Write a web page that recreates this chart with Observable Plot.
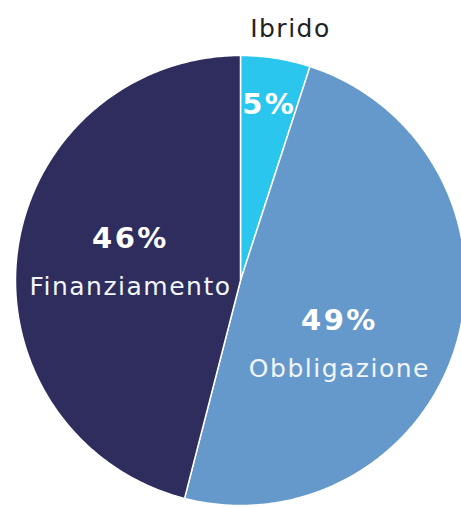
<!DOCTYPE html>
<html>
<head>
<meta charset="utf-8">
<script src="https://cdn.jsdelivr.net/npm/d3@7"></script>
<script src="https://cdn.jsdelivr.net/npm/@observablehq/plot@0.6"></script>
<style>
  html, body { margin: 0; padding: 0; background: #fff; }
  svg { display: block; }
  .nm text { letter-spacing: 1.5px; }
  .pc text { letter-spacing: 2.5px; }
</style>
</head>
<body>
<div id="chart"></div>
<script>
const categories = ["Ibrido", "Obbligazione", "Finanziamento"];
const shares = [5, 49, 46];
const colors = ["#2ac6ee", "#6699cb", "#2e2d5e"];

const rows = categories.map((name, i) => ({name, value: shares[i]}));
const arcs = d3.pie().sort(null).value(d => d.value)(rows);

// slice outlines in unit-circle coordinates (y up), derived from pie angles
const poly = [];
for (const a of arcs) {
  const name = a.data.name;
  poly.push({name, x: 0, y: 0});
  const n = Math.max(2, Math.ceil((a.endAngle - a.startAngle) / 0.01));
  for (let k = 0; k <= n; k++) {
    const t = a.startAngle + (a.endAngle - a.startAngle) * k / n;
    poly.push({name, x: Math.sin(t), y: Math.cos(t)});
  }
}

// label placement (angle shift in degrees, radius fraction)
const place = {
  Ibrido:        {pct: [0, 0.79], name: [2, 1.14], outside: true},
  Obbligazione:  {pct: [17, 0.52], name: [17, 0.52]},
  Finanziamento: {pct: [2, 0.5], name: [2, 0.5]}
};
const labels = arcs.map(a => {
  const mid = (a.startAngle + a.endAngle) / 2;
  const p = place[a.data.name];
  const at = ([dA, r]) => {
    const t = mid + dA * Math.PI / 180;
    return [r * Math.sin(t), r * Math.cos(t)];
  };
  const [px, py] = at(p.pct);
  const [nx, ny] = at(p.name);
  return {name: a.data.name, pct: a.data.value + "%", px, py, nx, ny, outside: !!p.outside};
});
const inside = labels.filter(d => !d.outside);
const outside = labels.filter(d => d.outside);

const font = "'DejaVu Sans', sans-serif";
const chart = Plot.plot({
  width: 461,
  height: 507,
  margin: 0,
  style: {fontFamily: font, background: "white"},
  x: {domain: [-1, 1], range: [15, 465], axis: null},
  y: {domain: [-1, 1], range: [505, 55], axis: null},
  color: {domain: categories, range: colors},
  marks: [
    Plot.line(poly, {x: "x", y: "y", z: "name", fill: "name", stroke: "white", strokeWidth: 1.5, curve: "linear-closed"}),
    Plot.text(outside, {x: "px", y: "py", text: "pct", fill: "white", fontSize: 29, fontWeight: "bold", dx: 1, className: "pc"}),
    Plot.text(inside, {x: "px", y: "py", text: "pct", fill: "white", fontSize: 29, fontWeight: "bold", dx: 1, dy: -24, className: "pc"}),
    Plot.text(inside, {x: "nx", y: "ny", text: "name", fill: "#f2f5fa", fontSize: 25, dx: 1, dy: 24, className: "nm"}),
    Plot.text(outside, {x: "nx", y: "ny", text: "name", fill: "#222", fontSize: 25, dx: 1, className: "nm"})
  ]
});
document.getElementById("chart").appendChild(chart);
</script>
</body>
</html>
